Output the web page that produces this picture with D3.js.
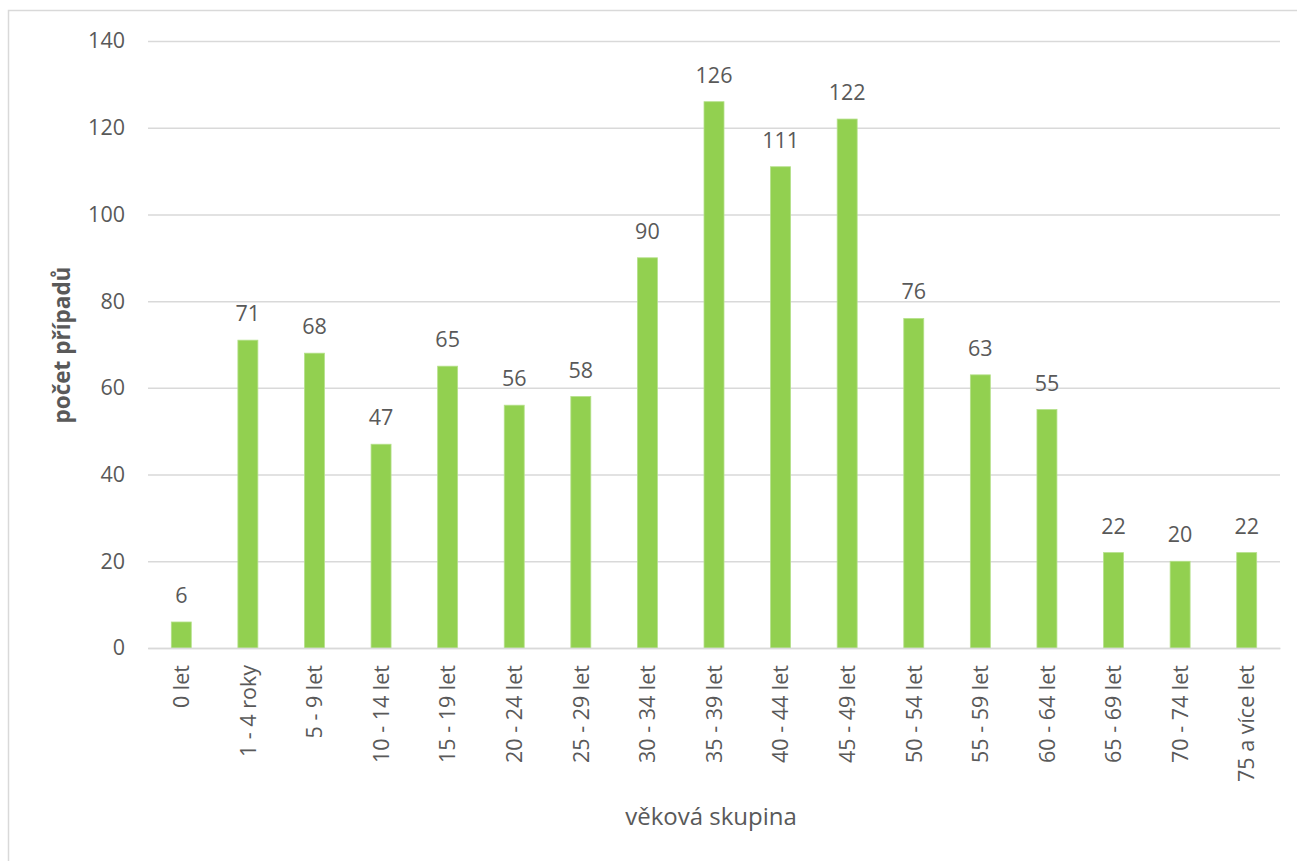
<!DOCTYPE html>
<html><head><meta charset="utf-8">
<script src="https://cdn.jsdelivr.net/npm/d3@7"></script>
<style>body{margin:0;background:#fff;} svg{display:block;font-family:"Open Sans","Noto Sans",sans-serif;}</style>
</head><body>
<svg id="c" width="1297" height="861"></svg>
<script>
const categories = ["0 let","1 - 4 roky","5 - 9 let","10 - 14 let","15 - 19 let","20 - 24 let","25 - 29 let","30 - 34 let","35 - 39 let","40 - 44 let","45 - 49 let","50 - 54 let","55 - 59 let","60 - 64 let","65 - 69 let","70 - 74 let","75 a více let"];
const values = [6,71,68,47,65,56,58,90,126,111,122,76,63,55,22,20,22];
const yTicks = [0,20,40,60,80,100,120,140];
const yTitle = "počet případů";
const xTitle = "věková skupina";

const svg = d3.select("#c");
const L = 148, R = 1280, T = 41, B = 648;
const x = d3.scaleBand().domain(categories).range([L, R]).paddingInner(0.7).paddingOuter(0.35);
const y = d3.scaleLinear().domain([0,140]).range([B, T]);
const txt = "#595959", grid = "#d9d9d9";
const F = "Open Sans";

svg.append("rect").attr("x",8.5).attr("y",10.5).attr("width",1400).attr("height",1000)
  .attr("fill","none").attr("stroke","#d9d9d9").attr("stroke-width",1.5);

const ya = svg.append("g").attr("transform",`translate(${L},0)`)
  .call(d3.axisLeft(y).tickValues(yTicks).tickSize(-(R-L)).tickPadding(23));
ya.select(".domain").remove();
ya.selectAll(".tick line").attr("stroke",grid).attr("stroke-width",1.5);
ya.selectAll(".tick text").attr("fill",txt).attr("font-size",21.5).attr("font-family",F);

svg.append("g").selectAll("rect").data(values).join("rect")
  .attr("x",(d,i)=>x(categories[i])).attr("width",x.bandwidth())
  .attr("y",d=>y(d)).attr("height",d=>B-y(d))
  .attr("fill","#92d050").attr("stroke","#b5e08a").attr("stroke-width",0.8);

svg.append("g").selectAll("text").data(values).join("text")
  .attr("x",(d,i)=>x(categories[i])+x.bandwidth()/2).attr("y",d=>y(d)-19)
  .attr("text-anchor","middle").attr("fill",txt).attr("font-size",21.5).attr("font-family",F).text(d=>d);

const xa = svg.append("g").attr("transform",`translate(0,${B})`)
  .call(d3.axisBottom(x).tickSize(0).tickPadding(0));
xa.select(".domain").attr("stroke",grid).attr("stroke-width",1.5);
xa.selectAll(".tick text").attr("fill",txt).attr("font-size",21.5).attr("font-family",F)
  .attr("transform","rotate(-90)").attr("text-anchor","end").attr("dy","0.36em").attr("x",-17).attr("y",0);

svg.append("text").attr("transform","translate(70,345) rotate(-90)").attr("text-anchor","middle")
  .attr("fill",txt).attr("font-size",22.5).attr("font-weight","bold").attr("font-family",F).text(yTitle);
svg.append("text").attr("x",711).attr("y",825).attr("text-anchor","middle")
  .attr("fill",txt).attr("font-size",24).attr("font-family",F).text(xTitle);
</script>
</body></html>
